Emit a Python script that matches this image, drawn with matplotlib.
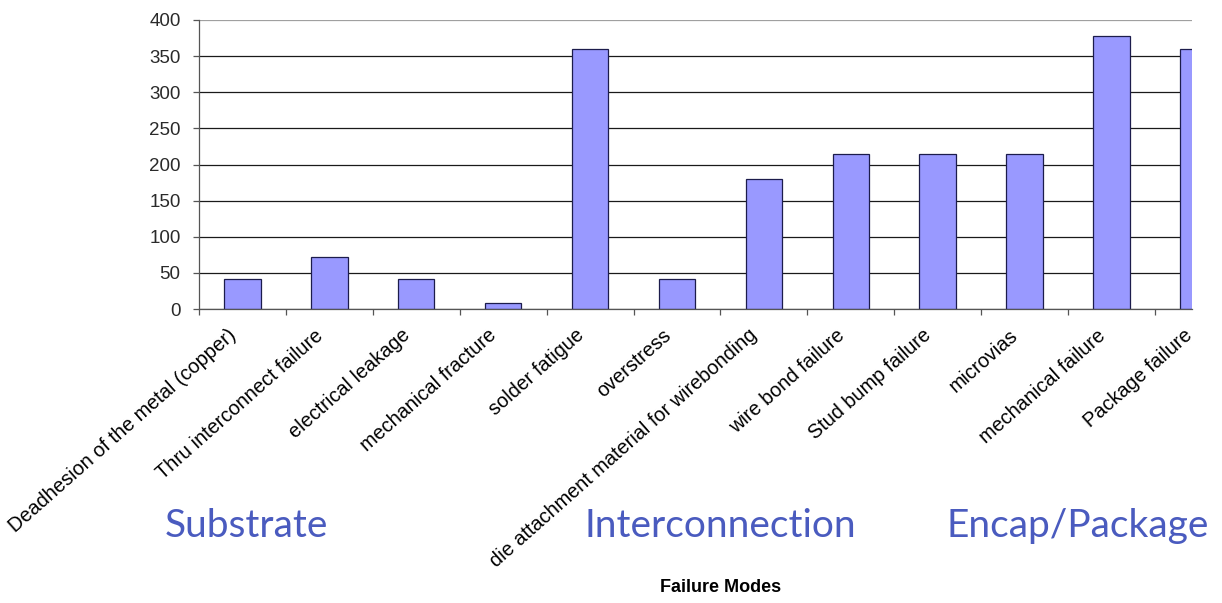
import matplotlib
matplotlib.use("Agg")
import matplotlib.pyplot as plt
from matplotlib.transforms import blended_transform_factory
import numpy as np

# Failure modes and their scores
categories = [
    "Deadhesion of the metal (copper)",
    "Thru interconnect failure",
    "electrical leakage",
    "mechanical fracture",
    "solder fatigue",
    "overstress",
    "die attachment material for wirebonding",
    "wire bond failure",
    "Stud bump failure",
    "microvias",
    "mechanical failure",
    "Package failure",
]
values = [41, 72, 41, 8, 360, 41, 180, 215, 215, 215, 378, 360]
y_ticks = [0, 50, 100, 150, 200, 250, 300, 350, 400]
group_names = ["Substrate", "Interconnection", "Encap/Package"]
x_title = "Failure Modes"

W, H = 1222, 603
fig = plt.figure(figsize=(W / 100, H / 100), dpi=100)
fig.patch.set_facecolor("white")

ax_l, ax_r, ax_t, ax_b = 199, 1192, 20, 309
ax = fig.add_axes([ax_l / W, 1 - ax_b / H, (ax_r - ax_l) / W, (ax_b - ax_t) / H])

x = np.arange(len(categories))
ax.bar(x, values, width=0.42, color="#9999FF", edgecolor="#1c1c4c",
       linewidth=0.9, zorder=3)

ax.set_yticks(y_ticks)
ax.set_yticklabels([str(v) for v in y_ticks], fontsize=13.5,
                   family="Liberation Sans", color="#2a2a2a")
ax.tick_params(axis="y", direction="out", length=4.3, width=0.9,
               color="#555555", pad=9)

# category boundaries carry the tick marks; names are placed as annotations
ax.set_xticks([])
ax.set_xticks(np.arange(-0.5, len(categories), 1.0), minor=True)
ax.tick_params(axis="x", which="minor", direction="out", length=4.3,
               width=0.9, color="#555555", labelbottom=False)

# category band width in pixels; the plot area shows only part of the last band
band = 86.9
ax.set_xlim(-0.5, -0.5 + (ax_r - ax_l) / band)
ax.set_ylim(0, 400)

name_trans = blended_transform_factory(ax.transData, ax.transAxes)
for xi, name in zip(x, categories):
    ax.annotate(name, xy=(xi - 0.03, 0), xycoords=name_trans,
                xytext=(0, -12), textcoords="offset points",
                rotation=41.5, ha="right", va="top", fontsize=14.3,
                family="Liberation Sans", color="black",
                annotation_clip=False)

ax.yaxis.grid(True, color="#1a1a1a", linewidth=0.9, zorder=1)
ax.set_axisbelow(True)
grid_lines = ax.get_ygridlines()
grid_lines[-1].set_color("#a0a0a0")

for side in ("top", "right"):
    ax.spines[side].set_visible(False)
for side in ("left", "bottom"):
    ax.spines[side].set_color("#555555")
    ax.spines[side].set_linewidth(0.9)
    ax.spines[side].set_zorder(4)

# axis title centred under the full set of categories
trans = blended_transform_factory(ax.transData, fig.transFigure)
ax.text((len(categories) - 1) / 2, 1 - 588 / H, x_title, transform=trans,
        ha="center", va="center", fontsize=13, fontweight="bold",
        family="Liberation Sans", clip_on=False)

# group captions beneath the tick labels
group_left_px = [165, 585, 947]
for name, px in zip(group_names, group_left_px):
    fig.text(px / W, 1 - 537 / H, name, ha="left", va="baseline",
             fontsize=28, family="Lato", color="#4a5bbf")

fig.savefig("out.png", dpi=100)
